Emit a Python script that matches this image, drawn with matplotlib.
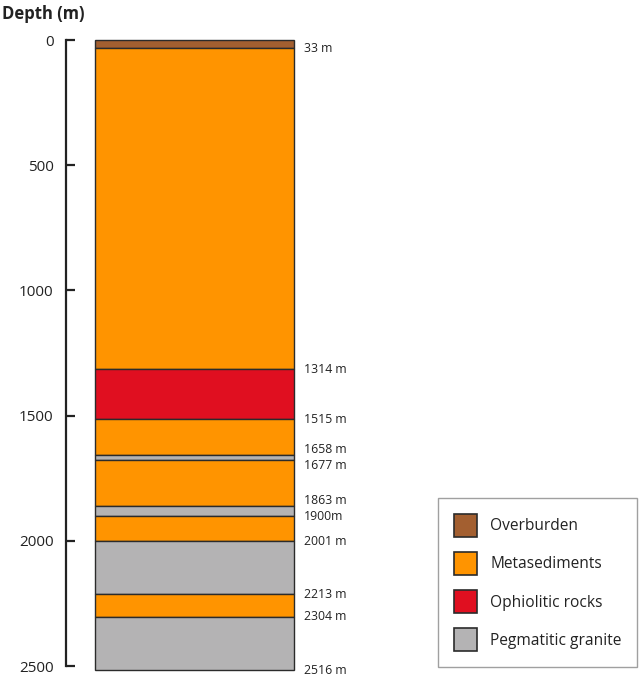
import matplotlib
matplotlib.use("Agg")
import matplotlib.pyplot as plt
from matplotlib.patches import Patch

plt.rcParams['font.family'] = ['Open Sans', 'DejaVu Sans']

# Borehole log: layer boundaries (m) and lithology of each interval
tops = [0, 33, 1314, 1515, 1658, 1677, 1863, 1900, 2001, 2213, 2304]
bottoms = [33, 1314, 1515, 1658, 1677, 1863, 1900, 2001, 2213, 2304, 2516]
units = ["Overburden", "Metasediments", "Ophiolitic rocks", "Metasediments",
         "Pegmatitic granite", "Metasediments", "Pegmatitic granite",
         "Metasediments", "Pegmatitic granite", "Metasediments",
         "Pegmatitic granite"]

# Depth labels shown beside the column
depth_labels = ["33 m", "1314 m", "1515 m", "1658 m", "1677 m", "1863 m",
                "1900m", "2001 m", "2213 m", "2304 m", "2516 m"]
label_depths = [33, 1314, 1515, 1658, 1677, 1863, 1900, 2001, 2213, 2304, 2516]

legend_units = ["Overburden", "Metasediments", "Ophiolitic rocks", "Pegmatitic granite"]
colors = {
    "Overburden": "#A35F30",
    "Metasediments": "#FF9400",
    "Ophiolitic rocks": "#E00F20",
    "Pegmatitic granite": "#B4B3B4",
}
yticks = [0, 500, 1000, 1500, 2000, 2500]

W, H = 643, 678
fig = plt.figure(figsize=(W / 100, H / 100), dpi=100)

# axes spans from the depth spine (x=66 px) to the right edge of the column
ax_left, ax_right = 66, 294
ax_top, ax_bottom = 40, 666
ax = fig.add_axes([ax_left / W, (H - ax_bottom) / H,
                   (ax_right - ax_left) / W, (ax_bottom - ax_top) / H])
ax.set_xlim(0, ax_right - ax_left)
ax.set_ylim(2500, 0)

col_x0 = 95 - ax_left
col_w = 294 - 95
for top, bot, unit in zip(tops, bottoms, units):
    ax.bar(col_x0, bot - top, bottom=top, width=col_w, align='edge',
           color=colors[unit], edgecolor='#2b2b2b', linewidth=1.0, clip_on=False)

# small vertical nudges (pixels, downward positive) keep close labels apart
nudge = {"1658 m": -6, "1677 m": 6, "1863 m": -6, "1900m": 1}
for lab, d in zip(depth_labels, label_depths):
    ax.annotate(lab, xy=(ax_right - ax_left, d),
                xytext=(7, -nudge.get(lab, 0) * 0.72),
                textcoords='offset points', va='center', ha='left',
                fontsize=8.8, color='#222222', annotation_clip=False)

for s in ["top", "right", "bottom"]:
    ax.spines[s].set_visible(False)
ax.spines["left"].set_bounds(0, 2500)
ax.spines["left"].set_linewidth(1.6)
ax.spines["left"].set_color('#222222')
ax.set_xticks([])
ax.set_yticks(yticks)
ax.tick_params(axis='y', direction='in', length=6.5, width=1.6, pad=9,
               labelsize=11, colors='#222222')

fig.text(2 / W, (H - 14) / H, "Depth (m)", fontsize=12, fontweight='bold',
         va='center', ha='left', color='#222222')

handles = [Patch(facecolor=colors[u], edgecolor='#2b2b2b', linewidth=1.2, label=u)
           for u in legend_units]
leg = fig.legend(handles=handles, loc='lower right',
                 bbox_to_anchor=(637 / W, (H - 667) / H),
                 fontsize=11.2, frameon=True, fancybox=False,
                 handlelength=1.5, handleheight=1.9, handletextpad=0.85,
                 labelspacing=0.98, borderpad=1.0, borderaxespad=0)
leg.get_frame().set_edgecolor('#888888')
leg.get_frame().set_linewidth(1.0)
for t in leg.get_texts():
    t.set_color('#222222')

fig.savefig("out.png", dpi=100)
